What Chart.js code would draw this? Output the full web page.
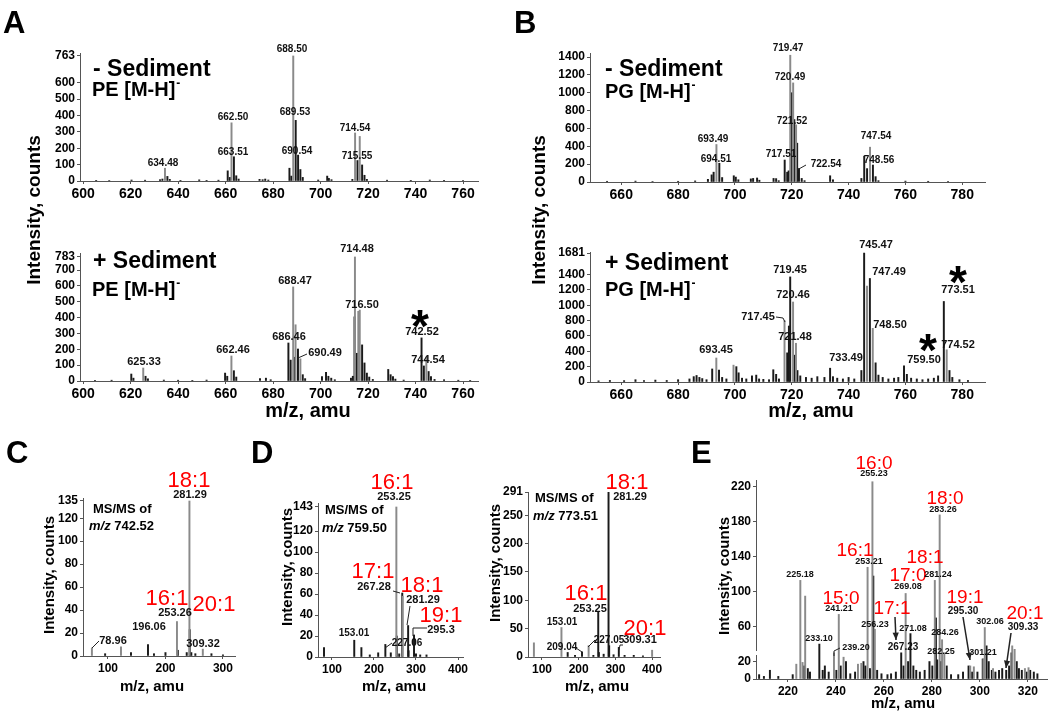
<!DOCTYPE html>
<html>
<head>
<meta charset="utf-8">
<script src="https://cdn.jsdelivr.net/npm/chart.js@4.4.1/dist/chart.umd.min.js"></script>
<style>
body { margin: 0; background: #fff; }
#wrap { position: relative; width: 1050px; height: 714px; }
#wrap canvas { position: absolute; left: 0; top: 0; }
</style>
</head>
<body>
<div id="wrap"></div>
<script>
// ---- data: [m/z, intensity] per panel, main (grey) and isotope/minor (black) peaks ----
const aTopMain = [[634.48, 78], [662.50, 355], [688.50, 763], [714.54, 293], [716.50, 272]];
const aTopMinor = [[605.5, 4], [611, 3], [620.4, 6], [626.1, 5], [632.4, 8], [633.4, 12], [635.5, 28], [636.5, 10], [641, 4],
    [648.9, 7], [652, 4], [657, 5], [660.9, 62], [661.8, 22], [663.51, 148], [664.5, 32], [665.5, 12], [674.3, 10], [675.6, 8],
    [676.7, 12], [678, 6], [686.9, 78], [687.7, 30], [689.53, 370], [690.54, 158], [691.5, 70], [692.5, 22], [699, 6],
    [702.8, 30], [703.5, 16], [704.6, 8], [713.4, 10], [715.55, 125], [717.5, 98], [718.5, 35], [719.5, 10], [728, 5],
    [738, 4], [746, 6], [752, 4], [760, 3]];

const aBotMain = [[625.33, 82], [662.46, 158], [688.47, 594], [689.47, 355], [691.5, 140], [714.48, 783], [715.9, 440],
    [716.50, 448], [744.54, 152]];
const aBotMinor = [[605, 4], [612, 5], [620.3, 44], [621.2, 18], [626.3, 30], [627.3, 14], [634, 6], [640, 5], [646, 4],
    [652, 6], [659.8, 50], [660.7, 30], [663.5, 65], [664.5, 25], [674.5, 15], [677, 18], [679, 8], [686.46, 240],
    [687.4, 132], [689.0, 150], [690.49, 202], [692.5, 40], [693.5, 15], [700.6, 28], [702.3, 55], [703.3, 30], [704.5, 18],
    [706, 8], [712.8, 18], [713.6, 30], [714.3, 405], [715.3, 175], [717.5, 228], [718.5, 114], [719.5, 50], [720.5, 25],
    [722, 10], [728.5, 73], [729.5, 40], [730.5, 28], [731.5, 12], [735, 6], [742.52, 272], [743.5, 95], [745.5, 60],
    [746.5, 28], [748, 10], [752, 8], [758, 5], [763, 4]];

const bTopMain = [[693.49, 420], [719.47, 1420], [720.49, 1110], [721.52, 640], [747.54, 390]];
const bTopMinor = [[655, 8], [665, 10], [671, 6], [680, 8], [686, 12], [690.5, 30], [691.8, 80], [692.5, 110], [694.51, 210],
    [695.5, 50], [699.6, 70], [700.3, 55], [701.2, 25], [705.6, 35], [706.4, 40], [707.8, 45], [708.6, 20], [713.6, 40],
    [714.5, 38], [715.4, 15], [717.51, 246], [718.4, 110], [718.9, 125], [719.9, 1000], [720.9, 700], [721.9, 435],
    [722.54, 150], [723.5, 40], [724.5, 15], [733.5, 70], [734.5, 25], [744.5, 40], [745.5, 290], [746.5, 150],
    [748.56, 190], [749.5, 60], [750.5, 15], [760, 10], [768, 8], [775, 6]];

const bBotMain = [[693.45, 313], [699.5, 220], [717.45, 800], [720.46, 1043], [721.48, 505], [746.48, 1250], [748.50, 700],
    [774.52, 420]];
const bBotMinor = [[652, 15], [656, 20], [661, 18], [665, 30], [668, 20], [672, 25], [676, 20], [680, 30], [684, 40],
    [685.5, 70], [686.5, 85], [687.5, 60], [688.5, 45], [690, 30], [692, 170], [694.4, 156], [695.5, 60], [697, 40],
    [700.5, 200], [701.3, 120], [702.5, 50], [704, 40], [706, 80], [707.5, 90], [708.5, 40], [710, 35], [712, 30],
    [713.5, 160], [714.5, 100], [715.5, 40], [718.4, 380], [719.0, 730], [719.45, 1370], [721.0, 350], [722, 150],
    [723, 80], [725, 60], [727, 50], [729, 70], [731.5, 60], [733.49, 180], [734.5, 70], [736, 50], [738, 40], [740, 60],
    [742, 40], [744.5, 150], [745.47, 1681], [747.49, 1350], [749.5, 250], [750.5, 90], [752, 60], [754, 40], [756, 50],
    [757.5, 60], [759.50, 210], [760.5, 100], [762, 50], [764, 40], [766, 30], [768, 40], [770, 50], [771.5, 80],
    [773.51, 1050], [775.5, 150], [776.5, 60], [779, 30], [782, 20]];

// panel C: positions as they sit against the printed axis
const cMain = [[72, 7], [122.6, 8], [220, 30], [241.7, 135], [265, 6]];
const cMinor = [[95, 2], [140, 3], [169.6, 10], [180, 2], [200, 3], [221.5, 5], [237, 3], [242.2, 23], [245, 3], [252, 2],
    [280, 2], [300, 1]];

const dLeftMain = [[253.25, 143], [268.2, 58]];
const dLeftMinor = [[81, 9], [153.01, 16], [170, 9], [190, 2], [210, 4], [227.06, 12], [240, 4], [254.2, 20], [260, 3],
    [267.28, 61], [281.29, 30], [282.3, 6], [295.3, 21], [300, 3], [310, 2], [325, 2]];

const dRightMain = [[78, 25], [153.01, 52], [227.05, 20], [400, 12]];
const dRightMinor = [[170, 8], [190, 3], [209.04, 9], [240, 3], [253.25, 79], [255, 8], [268, 5], [281.29, 291], [283, 20],
    [295, 4], [309.31, 17], [325, 3], [350, 3], [375, 2]];

const eMain = [[223.5, 17], [225.18, 113], [226.1, 19], [227.2, 95], [239.2, 30], [241.21, 74], [243.2, 25], [249.2, 17],
    [250.6, 18], [253.21, 128], [255.23, 226], [256.23, 57], [269.08, 98], [281.24, 113], [283.26, 188], [284.26, 45],
    [285.2, 30], [296, 15], [297.5, 14], [301.5, 23], [302.06, 59], [305.5, 12], [313.5, 38], [314.5, 34], [318.8, 12],
    [320.3, 13]];
const eMinor = [[208, 5], [210, 3], [212.5, 10], [216, 3], [222, 5], [226.8, 15], [228.3, 12], [229.2, 8], [233.10, 40],
    [234.5, 10], [235.4, 15], [237, 8], [240.2, 10], [242, 15], [244.2, 20], [246, 6], [248, 8], [251.5, 20], [252.3, 15],
    [254.2, 12], [255.6, 118], [257.2, 10], [259, 6], [261.5, 5], [263, 6], [265, 8], [267.23, 30], [268.2, 15],
    [270.1, 20], [271.08, 52], [272.3, 15], [273.5, 10], [275, 8], [277, 10], [279, 20], [280.2, 15], [281.7, 70],
    [282.25, 22], [283.8, 20], [286.2, 15], [288, 5], [291, 5], [293, 8], [295.30, 15], [296.8, 8], [299, 8],
    [301.21, 23], [302.8, 38], [303.7, 20], [305, 10], [306.5, 8], [308, 10], [309.33, 12], [311, 10], [312.2, 15],
    [313.2, 30], [315.4, 20], [316.3, 12], [317.5, 10], [319.5, 8], [321, 10], [322.5, 8], [324, 6]];

// tick labels
const aXTicks = [600, 620, 640, 660, 680, 700, 720, 740, 760];
const aTopYTicks = [0, 100, 200, 300, 400, 500, 600, 763];
const aBotYTicks = [0, 100, 200, 300, 400, 500, 600, 700, 783];
const bXTicks = [660, 680, 700, 720, 740, 760, 780];
const bTopYTicks = [0, 200, 400, 600, 800, 1000, 1200, 1400];
const bBotYTicks = [0, 200, 400, 600, 800, 1000, 1200, 1400, 1681];
const cXTicks = [100, 200, 300];
const cYTicks = [0, 20, 40, 60, 80, 100, 120, 135];
const dXTicks = [100, 200, 300, 400];
const dLeftYTicks = [0, 20, 40, 60, 80, 100, 120, 143];
const dRightYTicks = [0, 50, 100, 150, 200, 250, 291];
const eXTicks = [220, 240, 260, 280, 300, 320];
const eYTicks = [0, 20, 60, 100, 140, 180, 220];

// ---- drawing ----
const W = 1050, H = 714;
const AXIS_W = 36, AXIS_H = 24;   // fixed boxes for the tick labels
const FAMILY = "'Liberation Sans', Arial, sans-serif";
const f = (size, weight = 'bold', style = 'normal') => `${style} ${weight} ${size}px ${FAMILY}`;
const wrap = document.getElementById('wrap');

const lab = (text, x, y, size = 10) => ({ text, x, y, font: f(size), color: '#111' });
const red = (text, x, y, size = 22) => ({ text, x, y, font: f(size, 'normal'), color: '#ff0000' });
const lead = (...pts) => ({ line: pts });
const arrow = (...pts) => ({ line: pts, arrow: true, w: 1.5 });
const star = (x, y) => ({ text: '*', x, y: y + 26, font: f(46), base: 'alphabetic' });

function drawNotes(ctx, notes) {
    ctx.save();
    for (const n of notes) {
        if (n.rect) {
            ctx.fillStyle = n.color;
            ctx.fillRect(...n.rect);
            continue;
        }
        if (n.line) {
            ctx.strokeStyle = n.color || '#222';
            ctx.fillStyle = n.color || '#222';
            ctx.lineWidth = n.w || 1;
            ctx.beginPath();
            n.line.forEach(([x, y], i) => (i ? ctx.lineTo(x, y) : ctx.moveTo(x, y)));
            ctx.stroke();
            if (n.arrow) {
                const [x0, y0] = n.line[n.line.length - 2];
                const [x1, y1] = n.line[n.line.length - 1];
                const a = Math.atan2(y1 - y0, x1 - x0);
                ctx.beginPath();
                ctx.moveTo(x1, y1);
                ctx.lineTo(x1 - 8 * Math.cos(a - 0.4), y1 - 8 * Math.sin(a - 0.4));
                ctx.lineTo(x1 - 8 * Math.cos(a + 0.4), y1 - 8 * Math.sin(a + 0.4));
                ctx.closePath();
                ctx.fill();
            }
            continue;
        }
        ctx.fillStyle = n.color || '#000';
        ctx.textBaseline = n.base || 'middle';
        if (n.parts) {
            let x = n.x;
            ctx.textAlign = 'left';
            for (const [t, font] of n.parts) {
                ctx.font = font;
                ctx.fillText(t, x, n.y);
                x += ctx.measureText(t).width;
            }
            continue;
        }
        ctx.font = n.font;
        ctx.textAlign = n.align || 'center';
        if (n.rot) {
            ctx.save();
            ctx.translate(n.x, n.y);
            ctx.rotate(n.rot);
            ctx.fillText(n.text, 0, 0);
            ctx.restore();
        } else {
            ctx.fillText(n.text, n.x, n.y);
        }
        if (n.sup) {
            const w = ctx.measureText(n.text).width;
            ctx.font = f(12);
            ctx.textAlign = 'left';
            ctx.fillText(n.sup, n.x + w + 1, n.y - 6);
        }
    }
    ctx.restore();
}

function spectrum(id, p) {
    const canvas = document.createElement('canvas');
    canvas.id = id;
    canvas.width = W;
    canvas.height = H;
    wrap.appendChild(canvas);
    const [l, t, r, b] = p.area;
    const axisGrid = { drawOnChartArea: false, tickLength: 3, color: '#555', offset: false };
    new Chart(canvas, {
        type: 'bar',
        data: {
            datasets: [
                { data: p.main.map(([x, y]) => ({ x, y })), backgroundColor: '#8a8a8a', barThickness: 1.3, grouped: false },
                { data: p.minor.map(([x, y]) => ({ x, y })), backgroundColor: '#1a1a1a', barThickness: 1.3, grouped: false }
            ]
        },
        options: {
            responsive: false,
            animation: false,
            devicePixelRatio: 1,
            layout: { autoPadding: false, padding: { left: l - AXIS_W, top: t, right: W - r, bottom: H - b - AXIS_H } },
            plugins: { legend: { display: false }, tooltip: { enabled: false } },
            scales: {
                x: {
                    type: 'linear', min: p.xMin, max: p.xMax, offset: false,
                    afterFit: (s) => { s.height = AXIS_H; },
                    afterBuildTicks: (s) => { s.ticks = p.xTicks.map(v => ({ value: v })); },
                    grid: axisGrid,
                    border: { color: '#555' },
                    ticks: { autoSkip: false, maxRotation: 0, padding: p.xPad, color: '#000', callback: v => v,
                        font: { family: FAMILY, size: p.xFont, weight: 'bold' } }
                },
                y: {
                    type: 'linear', min: 0, max: p.yMax,
                    afterFit: (s) => { s.width = AXIS_W; },
                    afterBuildTicks: (s) => { s.ticks = p.yTicks.map(v => ({ value: v })); },
                    grid: axisGrid,
                    border: { color: '#555' },
                    ticks: { autoSkip: false, padding: 2, color: '#000', callback: v => v,
                        font: { family: FAMILY, size: 12, weight: 'bold' } }
                }
            }
        },
        plugins: [{ id: 'notes', afterDraw: (chart) => drawNotes(chart.ctx, p.notes) }]
    });
}

const rotUp = -Math.PI / 2;

spectrum('aTop', {
    area: [80, 53, 478, 181], xMin: 598.7, xMax: 766.3, yMax: 781, xTicks: aXTicks, yTicks: aTopYTicks,
    xFont: 14, xPad: 2, main: aTopMain, minor: aTopMinor,
    notes: [
        { text: 'A', x: 3, y: 24, font: f(31), align: 'left' },
        { text: 'B', x: 514, y: 24, font: f(31), align: 'left' },
        { text: 'C', x: 6, y: 454, font: f(31), align: 'left' },
        { text: 'D', x: 251, y: 454, font: f(31), align: 'left' },
        { text: 'E', x: 691, y: 454, font: f(31), align: 'left' },
        { text: 'Intensity, counts', x: 35, y: 210, rot: rotUp, font: f(19) },
        { text: 'm/z, amu', x: 308, y: 411, font: f(20) },
        { text: '- Sediment', x: 93, y: 70, font: f(23), align: 'left' },
        { text: 'PE [M-H]', sup: '-', x: 92, y: 90, font: f(20), align: 'left' },
        lab('634.48', 163, 163), lab('662.50', 233, 117), lab('663.51', 233, 152), lab('688.50', 292, 49),
        lab('689.53', 295, 112), lab('690.54', 297, 151), lab('714.54', 355, 128), lab('715.55', 357, 156)
    ]
});

spectrum('aBot', {
    area: [80, 253, 478, 381], xMin: 598.7, xMax: 766.3, yMax: 808, xTicks: aXTicks, yTicks: aBotYTicks,
    xFont: 14, xPad: 2, main: aBotMain, minor: aBotMinor,
    notes: [
        { text: '+ Sediment', x: 93, y: 262, font: f(23), align: 'left' },
        { text: 'PE [M-H]', sup: '-', x: 92, y: 290, font: f(20), align: 'left' },
        lab('625.33', 144, 362, 11), lab('662.46', 233, 350, 11), lab('686.46', 289, 337, 11), lab('688.47', 295, 281, 11),
        lab('690.49', 325, 353, 11), lead([307, 354], [298, 358]), lab('714.48', 357, 249, 11), lab('716.50', 362, 305, 11),
        lab('742.52', 422, 332, 11), lab('744.54', 428, 360, 11), star(420, 316)
    ]
});

spectrum('bTop', {
    area: [590, 53, 985, 182], xMin: 649, xMax: 788, yMax: 1445, xTicks: bXTicks, yTicks: bTopYTicks,
    xFont: 14, xPad: 2, main: bTopMain, minor: bTopMinor,
    notes: [
        { text: 'Intensity, counts', x: 540, y: 210, rot: rotUp, font: f(19) },
        { text: 'm/z, amu', x: 811, y: 411, font: f(20) },
        { text: '- Sediment', x: 605, y: 70, font: f(23), align: 'left' },
        { text: 'PG [M-H]', sup: '-', x: 605, y: 92, font: f(20), align: 'left' },
        lab('693.49', 713, 139), lab('694.51', 716, 159), lab('719.47', 788, 48), lab('720.49', 790, 77),
        lab('721.52', 792, 121), lab('717.51', 781, 154), lab('722.54', 826, 164), lead([797, 170], [806, 165]),
        lab('747.54', 876, 136), lab('748.56', 879, 160)
    ]
});

spectrum('bBot', {
    area: [590, 252, 985, 382], xMin: 649, xMax: 788, yMax: 1695, xTicks: bXTicks, yTicks: bBotYTicks,
    xFont: 14, xPad: 2, main: bBotMain, minor: bBotMinor,
    notes: [
        { text: '+ Sediment', x: 605, y: 264, font: f(23), align: 'left' },
        { text: 'PG [M-H]', sup: '-', x: 605, y: 290, font: f(20), align: 'left' },
        lab('693.45', 716, 350, 11), lab('717.45', 758, 317, 11), lead([776, 317], [783, 318], [785, 322]),
        lab('719.45', 790, 270, 11), lab('720.46', 793, 295, 11), lab('721.48', 795, 337, 11),
        lab('733.49', 846, 358, 11), lab('745.47', 876, 245, 11), lab('747.49', 889, 272, 11), lab('748.50', 890, 325, 11),
        lab('759.50', 924, 360, 11), lab('773.51', 958, 290, 11), lab('774.52', 958, 345, 11),
        star(928, 340), star(958, 272)
    ]
});

spectrum('c', {
    area: [83, 498, 235, 656], xMin: 56.5, xMax: 321, yMax: 137.6, xTicks: cXTicks, yTicks: cYTicks,
    xFont: 12, xPad: 2, main: cMain, minor: cMinor,
    notes: [
        { text: 'Intensity, counts', x: 50, y: 575, rot: rotUp, font: f(15) },
        { text: 'm/z, amu', x: 152, y: 687, font: f(15) },
        { text: 'MS/MS of', x: 93, y: 509, font: f(13), align: 'left' },
        { parts: [['m/z', f(13, 'bold', 'italic')], [' 742.52', f(13)]], x: 89, y: 526 },
        red('18:1', 189, 481), red('16:1', 167, 599), red('20:1', 214, 605),
        lab('281.29', 190, 495, 11), lab('253.26', 175, 613, 11), lab('309.32', 203, 644, 11),
        lab('196.06', 149, 627, 11), lab('78.96', 113, 641, 11), lead([92, 648], [99, 641])
    ]
});

spectrum('dLeft', {
    area: [318, 503, 463, 657], xMin: 66.7, xMax: 411.9, yMax: 146.8, xTicks: dXTicks, yTicks: dLeftYTicks,
    xFont: 12, xPad: 2, main: dLeftMain, minor: dLeftMinor,
    notes: [
        { text: 'Intensity, counts', x: 288, y: 567, rot: rotUp, font: f(15) },
        { text: 'm/z, amu', x: 394, y: 687, font: f(15) },
        { text: 'MS/MS of', x: 325, y: 510, font: f(13), align: 'left' },
        { parts: [['m/z', f(13, 'bold', 'italic')], [' 759.50', f(13)]], x: 322, y: 528 },
        red('16:1', 392, 483), red('17:1', 373, 572), red('18:1', 422, 586), red('19:1', 441, 616),
        lab('253.25', 394, 497, 11), lab('267.28', 374, 587, 11), lead([393, 591], [400, 593]),
        lab('281.29', 423, 600, 11), lead([410, 606], [407, 625]),
        lab('295.3', 441, 630, 11), lead([413, 636], [413, 628], [427, 628]),
        lab('153.01', 354, 633, 10), lab('227.06', 407, 643, 10), lead([385, 648], [392, 643])
    ]
});

spectrum('dRight', {
    area: [528, 492, 660, 657], xMin: 61.9, xMax: 421.5, yMax: 291, xTicks: dXTicks, yTicks: dRightYTicks,
    xFont: 12, xPad: 2, main: dRightMain, minor: dRightMinor,
    notes: [
        { text: 'Intensity, counts', x: 496, y: 563, rot: rotUp, font: f(15) },
        { text: 'm/z, amu', x: 597, y: 687, font: f(15) },
        { text: 'MS/MS of', x: 535, y: 498, font: f(13), align: 'left' },
        { parts: [['m/z', f(13, 'bold', 'italic')], [' 773.51', f(13)]], x: 533, y: 516 },
        red('18:1', 627, 483), red('16:1', 586, 594), red('20:1', 645, 629),
        lab('281.29', 630, 497, 11), lab('253.25', 590, 609, 11), lab('309.31', 640, 640, 11),
        lead([619, 650], [620, 645], [623, 645]),
        lab('153.01', 562, 622, 10), lab('209.04', 562, 647, 10), lead([576, 648], [582, 652]),
        lab('227.05', 609, 640, 10), lead([588, 647], [595, 640])
    ]
});

spectrum('e', {
    area: [756, 480, 1047, 679], xMin: 206.7, xMax: 328, yMax: 228, xTicks: eXTicks, yTicks: eYTicks,
    xFont: 12, xPad: 2, main: eMain, minor: eMinor,
    notes: [
        { rect: [753, 651, 5, 4], color: '#fff' },
        { text: 'Intensity, counts', x: 725, y: 576, rot: rotUp, font: f(15) },
        { text: 'm/z, amu', x: 903, y: 704, font: f(15) },
        red('16:0', 874, 464, 19), red('18:0', 945, 499, 19), red('16:1', 855, 551, 19), red('18:1', 925, 558, 19),
        red('17:0', 908, 576, 19), red('15:0', 841, 599, 19), red('17:1', 892, 609, 19), red('19:1', 965, 598, 19),
        red('20:1', 1025, 614, 19),
        lab('255.23', 874, 474, 9), lab('225.18', 800, 575, 9), lab('253.21', 869, 562, 9), lab('269.08', 908, 587, 9),
        lab('281.24', 938, 575, 9), lab('283.26', 943, 510, 9), lab('241.21', 839, 609, 9), lab('233.10', 819, 639, 9),
        lab('239.20', 856, 648, 9), lead([834, 656], [834, 651], [840, 648]),
        lab('256.23', 875, 625, 9), lab('271.08', 913, 629, 9), lab('284.26', 945, 633, 9), lab('282.25', 941, 652, 9),
        lab('301.21', 983, 653, 9), lab('302.06', 990, 622, 9),
        lab('267.23', 903, 647, 10), arrow([895, 617], [896, 640]),
        lab('295.30', 963, 611, 10), arrow([963, 617], [970, 660]),
        lab('309.33', 1023, 627, 10), arrow([1011, 633], [1006, 668])
    ]
});
</script>
</body>
</html>
